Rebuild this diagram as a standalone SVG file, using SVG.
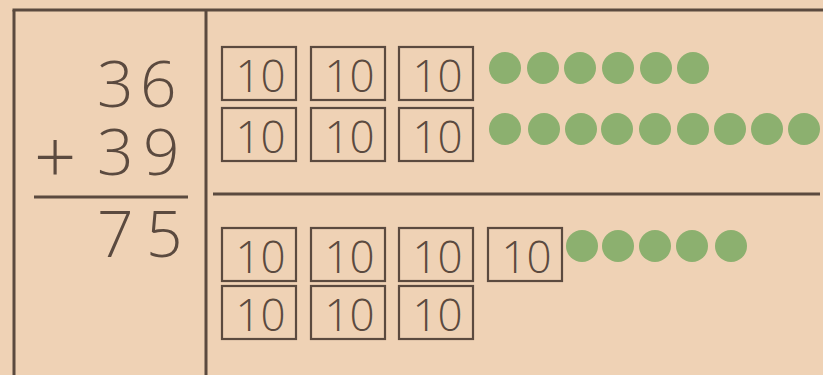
<svg xmlns="http://www.w3.org/2000/svg" width="823" height="375" viewBox="0 0 823 375">
<style>
.frame{stroke:#5b4a3f;stroke-width:3;fill:none}
.box{fill:none;stroke:#5b4a3f;stroke-width:2.2}
.tt{font-family:"Open Sans","DejaVu Sans",sans-serif;font-weight:300;font-size:44px;fill:#5b4a3f;text-anchor:middle}
.num{font-family:"Open Sans","DejaVu Sans",sans-serif;font-weight:350;font-size:64px;fill:#5b4a3f}
.dot{fill:#8cb06f}
</style>
<defs>
<g id="ten"><rect class="box" x="0" y="0" width="74" height="53"/><text class="tt" x="38.5" y="45">10</text></g>
</defs>
<rect width="823" height="375" fill="#efd2b5"/>
<g id="frame" class="frame">
<line x1="14" y1="10" x2="14" y2="375"/>
<line x1="12.5" y1="10" x2="823" y2="10"/>
<line x1="206" y1="10" x2="206" y2="375"/>
<line x1="213" y1="194" x2="820" y2="194"/>
<line x1="34" y1="197" x2="188" y2="197"/>
</g>
<g id="sum">
<text class="num" x="97 140" y="107">36</text>
<text class="num" y="175"><tspan x="34" y="184" font-size="74" font-weight="300">+</tspan><tspan x="97 143" y="175">39</tspan></text>
<text class="num" x="97 146" y="257">75</text>
</g>
<g id="top-tens">
<use href="#ten" x="222" y="47"/>
<use href="#ten" x="311" y="47"/>
<use href="#ten" x="399" y="47"/>
<use href="#ten" x="222" y="108"/>
<use href="#ten" x="311" y="108"/>
<use href="#ten" x="399" y="108"/>
</g>
<g id="top-ones" class="dot">
<circle cx="505" cy="68" r="16"/><circle cx="543" cy="68" r="16"/><circle cx="580" cy="68" r="16"/><circle cx="618" cy="68" r="16"/><circle cx="656" cy="68" r="16"/><circle cx="693" cy="68" r="16"/>
<circle cx="505" cy="129" r="16"/><circle cx="544" cy="129" r="16"/><circle cx="581" cy="129" r="16"/><circle cx="617" cy="129" r="16"/><circle cx="655" cy="129" r="16"/><circle cx="693" cy="129" r="16"/><circle cx="730" cy="129" r="16"/><circle cx="767" cy="129" r="16"/><circle cx="804" cy="129" r="16"/>
</g>
<g id="bottom-tens">
<use href="#ten" x="222" y="228"/>
<use href="#ten" x="311" y="228"/>
<use href="#ten" x="399" y="228"/>
<use href="#ten" x="488" y="228"/>
<use href="#ten" x="222" y="286"/>
<use href="#ten" x="311" y="286"/>
<use href="#ten" x="399" y="286"/>
</g>
<g id="bottom-ones" class="dot">
<circle cx="582" cy="246" r="16"/><circle cx="618" cy="246" r="16"/><circle cx="655" cy="246" r="16"/><circle cx="692" cy="246" r="16"/><circle cx="731" cy="246" r="16"/>
</g>
</svg>
